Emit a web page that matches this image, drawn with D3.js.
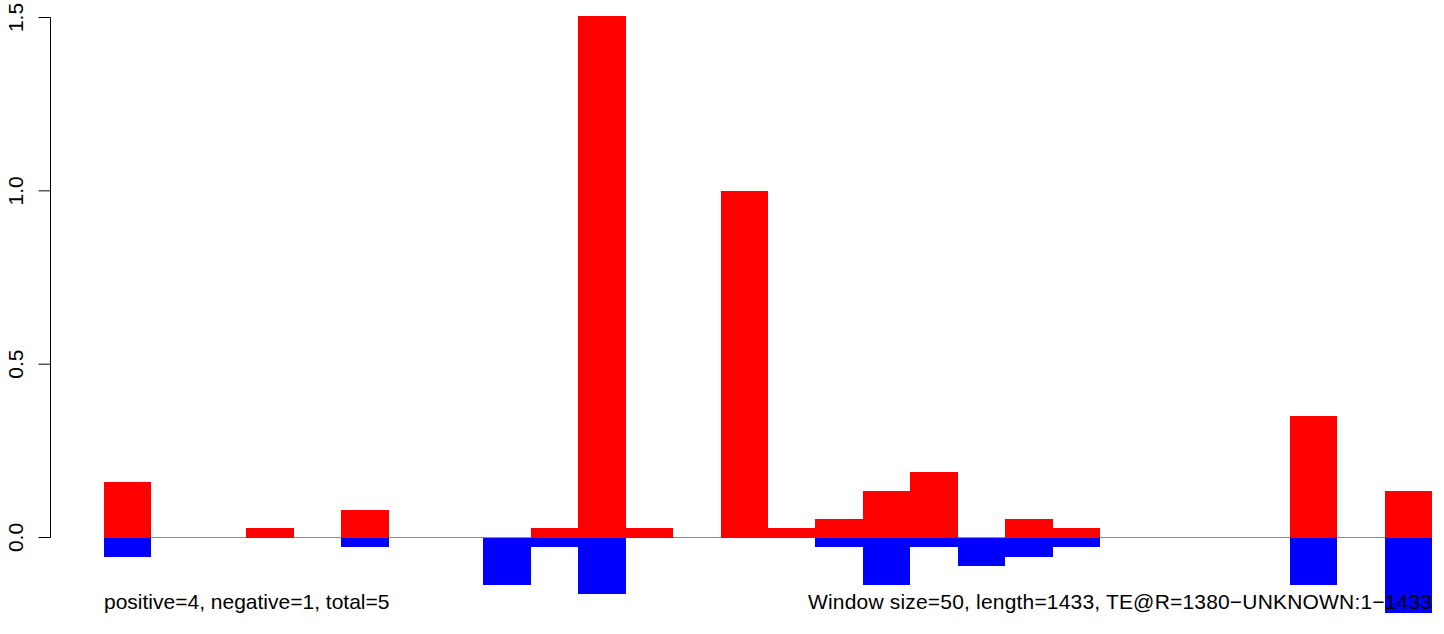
<!DOCTYPE html>
<html><head><meta charset="utf-8">
<script src="https://cdn.jsdelivr.net/npm/d3@7"></script>
<style>body{margin:0;background:#fff}svg{display:block}text{font-family:"Liberation Sans",Arial,sans-serif}</style>
</head><body>
<svg id="c" width="1444" height="634"></svg>
<script>
const windowSize = 50;
const seqLength = 1433;
const windowStarts = d3.range(0, 1400, 50);
const positiveValues = [0.16,0,0,0.027,0,0.08,0,0,0,0.027,1.505,0.027,0,1.0,0.027,0.053,0.134,0.189,0,0.053,0.027,0,0,0,0,0.35,0,0.135];
const negativeValues = [-0.055,0,0,0,0,-0.027,0,0,-0.137,-0.027,-0.163,0,0,0,0,-0.027,-0.137,-0.027,-0.082,-0.055,-0.027,0,0,0,0,-0.137,0,-0.218];
const yTicks = [0, 0.5, 1.0, 1.5];
const yTickLabels = ["0.0", "0.5", "1.0", "1.5"];
const leftNote = "positive=4, negative=1, total=5";
const rightNote = "Window size=50, length=1433, TE@R=1380\u2212UNKNOWN:1\u22121433";

const svg = d3.select("#c");
const x = d3.scaleLinear().domain([0, 1400]).range([104, 1432]);
const y = d3.scaleLinear().domain([0, 1.5]).range([537.5, 17.5]);

// baseline
svg.append("line").attr("x1", x(0)).attr("x2", x(1400)).attr("y1", y(0)).attr("y2", y(0))
  .attr("stroke", "#8c8c8c").attr("stroke-width", 1);

const data = windowStarts.map((s, i) => ({s, p: positiveValues[i], n: negativeValues[i]}));
svg.append("g").attr("shape-rendering", "crispEdges").selectAll("rect.p").data(data.filter(d => d.p > 0)).join("rect")
  .attr("x", d => x(d.s)).attr("width", d => x(d.s + windowSize) - x(d.s))
  .attr("y", d => y(d.p)).attr("height", d => y(0) - y(d.p)).attr("fill", "#ff0000");
svg.append("g").attr("shape-rendering", "crispEdges").selectAll("rect.n").data(data.filter(d => d.n < 0)).join("rect")
  .attr("x", d => x(d.s)).attr("width", d => x(d.s + windowSize) - x(d.s))
  .attr("y", y(0)).attr("height", d => y(d.n) - y(0)).attr("fill", "#0000ff");

// y axis
const ax = svg.append("g").attr("transform", "translate(50.5,0)");
ax.append("line").attr("x1", 0).attr("x2", 0).attr("y1", y(0)).attr("y2", y(1.5)).attr("stroke", "#000");
yTicks.forEach((t, i) => {
  ax.append("line").attr("x1", -12).attr("x2", 0).attr("y1", y(t)).attr("y2", y(t)).attr("stroke", "#000");
  ax.append("text").attr("transform", `translate(-27.5,${y(t)}) rotate(-90)`)
    .attr("text-anchor", "middle").attr("font-size", 21).attr("fill", "#000").text(yTickLabels[i]);
});

svg.append("text").attr("x", 104).attr("y", 609).attr("font-size", 21).attr("fill", "#000").text(leftNote);
svg.append("text").attr("x", 808).attr("y", 609).attr("textLength", 624).attr("lengthAdjust", "spacing")
  .attr("font-size", 21).attr("fill", "#000").text(rightNote);
</script>
</body></html>
